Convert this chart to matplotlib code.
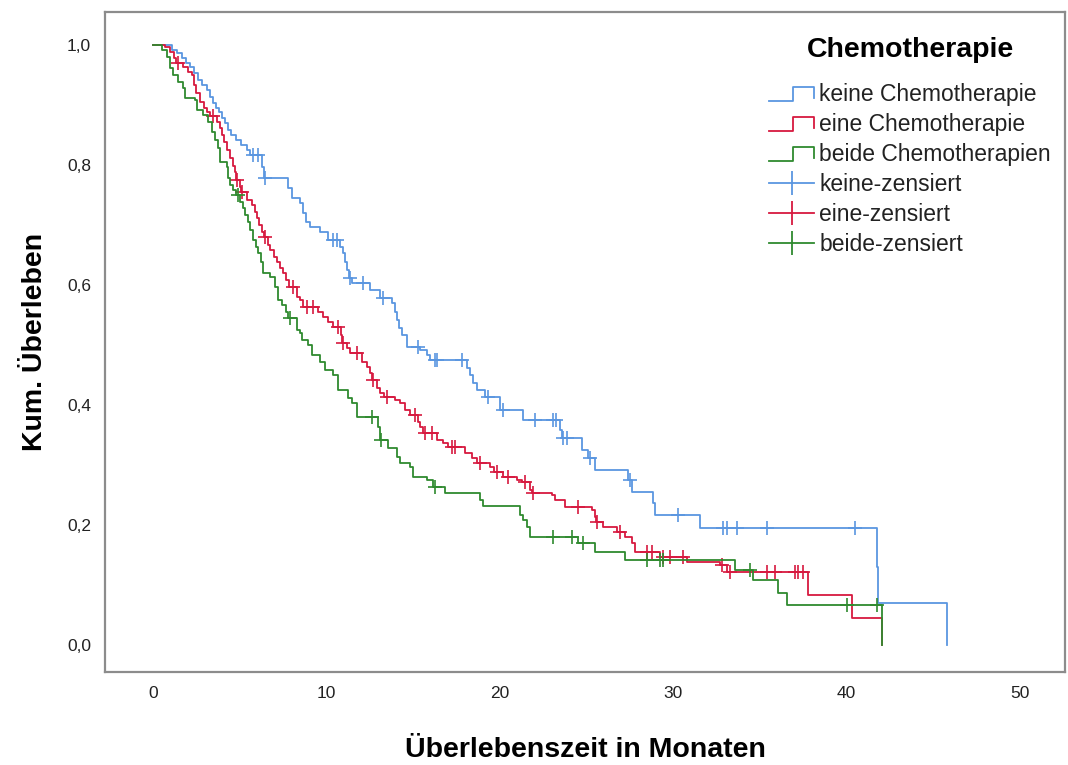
import numpy as np
import matplotlib
matplotlib.use("Agg")
import matplotlib.pyplot as plt
from matplotlib.lines import Line2D
from matplotlib.legend_handler import HandlerBase

plt.rcParams["font.family"] = ["Liberation Sans", "DejaVu Sans"]

# Kaplan-Meier step data (months, cumulative survival)
keine_t = [0, 1.10, 1.38, 1.67, 1.90, 2.13, 2.36, 2.60, 2.83, 3.11, 3.29, 3.46, 3.63, 3.81, 3.98,
           4.15, 4.33, 4.50, 4.79, 5.07, 5.42, 5.59, 6.29, 6.40, 7.79, 8.02, 8.48, 8.65, 8.82, 9.05,
           9.63, 10.09, 10.78, 10.96, 11.07, 11.19, 11.30, 11.48, 12.51, 13.09, 13.78, 13.96, 14.07,
           14.19, 14.36, 14.65, 15.40, 15.80, 15.97, 18.11, 18.28, 18.45, 18.69, 19.15, 20.01, 21.34,
           23.47, 23.59, 24.74, 25.09, 25.49, 27.39, 27.62, 28.84, 28.95, 31.55, 41.75, 41.81, 45.79]
keine_s = [1.0, 0.992, 0.987, 0.978, 0.970, 0.963, 0.953, 0.942, 0.933, 0.925, 0.913, 0.903, 0.895,
           0.888, 0.878, 0.870, 0.858, 0.850, 0.842, 0.833, 0.825, 0.817, 0.797, 0.778, 0.762, 0.745,
           0.737, 0.720, 0.705, 0.697, 0.688, 0.675, 0.663, 0.653, 0.638, 0.625, 0.612, 0.603, 0.592,
           0.578, 0.570, 0.555, 0.542, 0.528, 0.517, 0.497, 0.492, 0.483, 0.475, 0.462, 0.450, 0.437,
           0.425, 0.413, 0.392, 0.375, 0.358, 0.345, 0.325, 0.312, 0.292, 0.275, 0.255, 0.237, 0.217,
           0.195, 0.130, 0.070, 0.0]
keine_cens = [5.77, 6.06, 6.46, 10.38, 10.61, 11.36, 12.11, 13.26, 15.28, 16.26, 16.38, 17.82, 19.32,
              20.18, 22.03, 23.07, 23.24, 23.64, 23.88, 25.20, 27.51, 30.28, 32.87, 33.10, 33.68,
              35.41, 40.48]

eine_t = [0, 0.69, 0.98, 1.21, 1.33, 1.73, 2.02, 2.25, 2.36, 2.48, 2.71, 2.94, 3.11, 3.29, 3.69,
          3.86, 3.98, 4.09, 4.27, 4.44, 4.61, 4.73, 4.79, 5.02, 5.07, 5.42, 5.71, 5.88, 6.00, 6.11,
          6.29, 6.40, 6.63, 6.75, 6.98, 7.15, 7.32, 7.50, 7.67, 7.84, 8.30, 8.48, 8.65, 9.52, 9.80,
          10.09, 10.38, 10.84, 10.90, 11.19, 11.36, 12.05, 12.34, 12.51, 12.63, 12.92, 13.09, 13.32,
          13.96, 14.24, 14.53, 14.82, 15.28, 15.40, 15.57, 16.38, 16.72, 17.01, 17.99, 18.40, 18.69,
          19.43, 19.67, 20.18, 21.00, 21.28, 21.74, 21.86, 23.01, 23.18, 23.76, 25.32, 25.49, 25.55,
          25.95, 26.76, 27.22, 27.62, 27.80, 29.24, 30.80, 32.70, 33.10, 37.77, 40.31, 42.04]
eine_s = [1.0, 0.997, 0.988, 0.978, 0.970, 0.963, 0.955, 0.950, 0.933, 0.920, 0.905, 0.895, 0.888,
          0.882, 0.872, 0.862, 0.850, 0.838, 0.825, 0.812, 0.798, 0.788, 0.775, 0.763, 0.755, 0.742,
          0.733, 0.722, 0.712, 0.700, 0.688, 0.680, 0.667, 0.658, 0.647, 0.638, 0.628, 0.620, 0.608,
          0.597, 0.580, 0.575, 0.563, 0.555, 0.547, 0.538, 0.530, 0.517, 0.503, 0.495, 0.487, 0.472,
          0.463, 0.453, 0.442, 0.428, 0.420, 0.413, 0.408, 0.403, 0.392, 0.383, 0.372, 0.363, 0.353,
          0.342, 0.337, 0.330, 0.320, 0.312, 0.303, 0.297, 0.288, 0.280, 0.275, 0.272, 0.258, 0.253,
          0.250, 0.242, 0.230, 0.225, 0.213, 0.205, 0.197, 0.188, 0.180, 0.170, 0.155, 0.147, 0.138,
          0.133, 0.122, 0.083, 0.045, 0.0]
eine_cens = [1.44, 3.46, 4.84, 5.13, 6.46, 8.07, 8.88, 9.23, 10.67, 10.96, 11.76, 12.69, 13.49, 15.11,
             15.69, 16.09, 17.24, 17.42, 18.86, 19.84, 20.47, 21.45, 21.91, 24.51, 25.61, 26.93,
             28.49, 28.78, 29.41, 29.82, 30.57, 32.81, 33.28, 35.41, 35.87, 37.02, 37.20, 37.49]

beide_t = [0, 0.52, 0.81, 0.98, 1.15, 1.44, 1.73, 1.85, 2.42, 2.54, 2.88, 3.17, 3.40, 3.58, 3.75,
           3.86, 4.27, 4.33, 4.44, 4.61, 4.79, 5.02, 5.19, 5.31, 5.48, 5.59, 5.77, 5.94, 6.06, 6.23,
           6.34, 6.75, 7.04, 7.21, 7.44, 7.67, 7.79, 8.30, 8.48, 8.59, 8.94, 9.17, 9.63, 9.92, 10.38,
           10.67, 11.25, 11.48, 11.76, 12.98, 13.09, 13.55, 14.07, 14.24, 14.82, 14.99, 15.80, 16.15,
           16.84, 18.86, 19.03, 21.16, 21.34, 21.57, 21.74, 24.51, 25.49, 27.22, 33.56, 34.60, 36.04,
           36.56, 42.04]
beide_s = [1.0, 0.992, 0.980, 0.962, 0.950, 0.938, 0.928, 0.912, 0.908, 0.892, 0.883, 0.872, 0.855,
           0.842, 0.828, 0.805, 0.797, 0.778, 0.767, 0.758, 0.750, 0.738, 0.728, 0.717, 0.705, 0.692,
           0.675, 0.663, 0.653, 0.638, 0.620, 0.613, 0.597, 0.575, 0.567, 0.555, 0.545, 0.525, 0.520,
           0.508, 0.500, 0.483, 0.472, 0.458, 0.450, 0.425, 0.412, 0.403, 0.380, 0.363, 0.342, 0.328,
           0.313, 0.303, 0.297, 0.280, 0.275, 0.263, 0.253, 0.242, 0.232, 0.217, 0.208, 0.197, 0.180,
           0.170, 0.155, 0.142, 0.125, 0.108, 0.087, 0.067, 0.0]
beide_cens = [4.90, 7.90, 12.63, 13.15, 16.26, 23.07, 24.16, 24.80, 28.49, 29.24, 29.41, 34.43,
              40.02, 41.75]

x_ticks = [0, 10, 20, 30, 40, 50]
y_ticks = [0.0, 0.2, 0.4, 0.6, 0.8, 1.0]

C_KEINE = "#5a96e0"
C_EINE = "#d7193f"
C_BEIDE = "#2f8a2f"

GROUPS = [
    ("keine Chemotherapie", "keine-zensiert", keine_t, keine_s, keine_cens, C_KEINE),
    ("eine Chemotherapie", "eine-zensiert", eine_t, eine_s, eine_cens, C_EINE),
    ("beide Chemotherapien", "beide-zensiert", beide_t, beide_s, beide_cens, C_BEIDE),
]


class StepHandler(HandlerBase):
    """Legend icon in SPSS style: low line, step up, drop at the end."""

    def create_artists(self, legend, orig, xd, yd, w, h, fontsize, trans):
        x0, y0 = -xd, -yd
        lo, hi = y0 + 0.0 * h, y0 + 0.85 * h
        xs = [x0, x0 + 0.52 * w, x0 + 0.52 * w, x0 + w, x0 + w]
        ys = [lo, lo, hi, hi, lo + 0.2 * h]
        ln = Line2D(xs, ys, color=orig.get_color(), lw=orig.get_linewidth(), transform=trans)
        return [ln]


fig = plt.figure(figsize=(10.68, 7.65), dpi=100)
ax = fig.add_axes([105 / 1068, 1 - 672 / 765, 960 / 1068, 660 / 765])

for _, _, t, s, cens, col in GROUPS:
    t = np.asarray(t); s = np.asarray(s)
    ax.step(t, s, where="post", color=col, lw=1.3)
    ct = np.asarray(cens)
    cs = s[np.searchsorted(t, ct, side="right") - 1]
    ax.plot(ct, cs, ls="none", marker="+", ms=10, mew=1.2, color=col)

ax.set_xlim(-2.77, 52.6)
ax.set_ylim(-0.045, 1.055)
ax.set_xticks(x_ticks)
ax.set_xticklabels([str(v) for v in x_ticks], fontsize=12.5)
ax.set_yticks(y_ticks)
ax.set_yticklabels([f"{v:.1f}".replace(".", ",") for v in y_ticks], fontsize=12.5)
ax.tick_params(length=0, colors="#222222")
ax.tick_params(axis="x", pad=10)
ax.tick_params(axis="y", pad=10)
for sp in ax.spines.values():
    sp.set_color("#8c8c8c")
    sp.set_linewidth(1.6)

ax.set_xlabel("Überlebenszeit in Monaten", fontsize=20.5, fontweight="bold", labelpad=26)
ax.set_ylabel("Kum. Überleben", fontsize=20.5, fontweight="bold", labelpad=14)

handles, labels, hmap = [], [], {}
for name, _, _, _, _, col in GROUPS:
    h = Line2D([], [], color=col, lw=1.3)
    handles.append(h); labels.append(name); hmap[h] = StepHandler()
for _, cname, _, _, _, col in GROUPS:
    h = Line2D([], [], color=col, lw=1.3, marker="|", ms=17, mew=1.3)
    handles.append(h); labels.append(cname)

leg = fig.legend(handles, labels, handler_map=hmap, loc="upper left",
                 bbox_to_anchor=(758 / 1068, 1 - 26 / 765), bbox_transform=fig.transFigure,
                 frameon=False, fontsize=16.5, title="Chemotherapie",
                 title_fontproperties={"size": 20.5, "weight": "bold"},
                 handlelength=1.95, handletextpad=0.22, labelspacing=0.31,
                 borderpad=0, numpoints=1)
leg._legend_box.sep = 14
for txt in leg.get_texts():
    txt.set_color("#222222")

fig.savefig("out.png", dpi=100)
